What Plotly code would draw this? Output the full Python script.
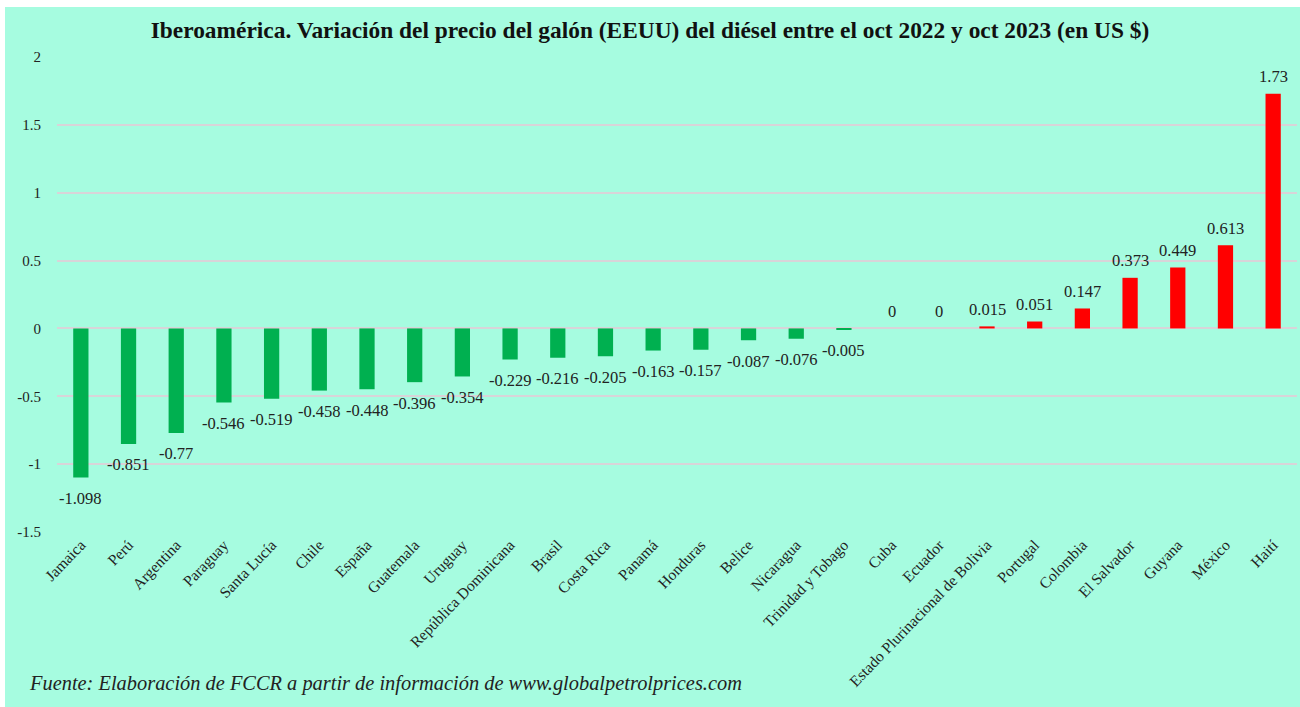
import plotly.graph_objects as go

countries = ["Jamaica", "Perú", "Argentina", "Paraguay", "Santa Lucía", "Chile", "España",
             "Guatemala", "Uruguay", "República Dominicana", "Brasil", "Costa Rica", "Panamá",
             "Honduras", "Belice", "Nicaragua", "Trinidad y Tobago", "Cuba", "Ecuador",
             "Estado Plurinacional de Bolivia", "Portugal", "Colombia", "El Salvador",
             "Guyana", "México", "Haití"]
values = [-1.098, -0.851, -0.77, -0.546, -0.519, -0.458, -0.448, -0.396, -0.354, -0.229,
          -0.216, -0.205, -0.163, -0.157, -0.087, -0.076, -0.005, 0, 0, 0.015, 0.051,
          0.147, 0.373, 0.449, 0.613, 1.73]
y_ticks = [-1.5, -1, -0.5, 0, 0.5, 1, 1.5, 2]

BG = "#A6FCE0"
GREEN = "#00B050"
RED = "#FF0000"
FONT = "Liberation Serif"

colors = [GREEN if v < 0 else RED for v in values]
labels = [f"{v:g}" for v in values]

fig = go.Figure(go.Bar(
    x=countries, y=values, marker_color=colors, marker_line_width=0,
    width=0.32, hoverinfo="x+y",
))

W0, W1 = 57, 1297
T0, B0 = 57, 532
def px_x(p):
    return (p - W0) / (W1 - W0)
def px_y(p):
    return (B0 - p) / (B0 - T0)

annotations = []
for c, v, t in zip(countries, values, labels):
    annotations.append(dict(
        x=c, y=v, xref="x", yref="y", text=t, showarrow=False,
        xanchor="center", yanchor="middle",
        yshift=(-21 if v < 0 else 17),
        font=dict(family=FONT, size=16.5, color="#222222"),
    ))
annotations.append(dict(
    text="<i>Fuente: Elaboración de FCCR a partir de información de www.globalpetrolprices.com</i>",
    xref="paper", yref="paper", x=px_x(27), y=px_y(683),
    xanchor="left", yanchor="middle", showarrow=False,
    font=dict(family=FONT, size=20.4, color="#222222")))

fig.update_layout(
    width=1300, height=707,
    margin=dict(l=W0, r=1300 - W1, t=T0, b=707 - B0),
    paper_bgcolor=BG, plot_bgcolor=BG,
    showlegend=False,
    font=dict(family=FONT, color="#222222"),
    title=dict(text="<b>Iberoamérica. Variación del precio del galón (EEUU) del diésel entre el oct 2022 y oct 2023 (en US $)</b>",
               x=0.5, xanchor="center", y=1 - 30 / 707, yanchor="middle",
               font=dict(family=FONT, size=23.4, color="#111111")),
    xaxis=dict(tickangle=-46, tickfont=dict(family=FONT, size=15.5, color="#222222"),
               showgrid=False, showline=False, zeroline=False, ticks=""),
    yaxis=dict(range=[-1.5, 2], tickvals=y_ticks, ticktext=[f"{t:g}" for t in y_ticks],
               tickfont=dict(family=FONT, size=15, color="#222222"),
               showgrid=True, gridcolor="#D8D4D8", gridwidth=2,
               zeroline=True, zerolinecolor="#D8D4D8", zerolinewidth=2,
               showline=False, ticks="outside", ticklen=12, tickcolor=BG),
    shapes=[
        dict(type="rect", xref="paper", yref="paper", x0=px_x(-5), x1=px_x(1305),
             y0=px_y(7), y1=px_y(-5), fillcolor="white", line_width=0, layer="below"),
        dict(type="rect", xref="paper", yref="paper", x0=px_x(-5), x1=px_x(5),
             y0=px_y(712), y1=px_y(-5), fillcolor="white", line_width=0, layer="below"),
    ],
    annotations=annotations,
)

fig.write_html("out.html")
